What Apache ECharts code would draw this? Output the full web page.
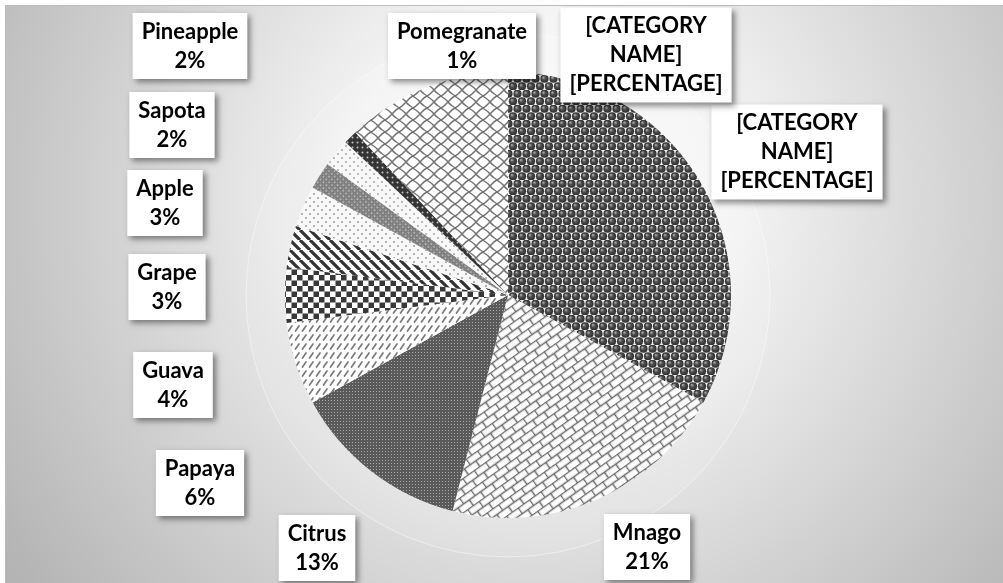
<!DOCTYPE html>
<html>
<head>
<meta charset="utf-8">
<script src="https://cdn.jsdelivr.net/npm/echarts@6/dist/echarts.min.js"></script>
<style>
  html, body { margin: 0; padding: 0; background: #ffffff; }
  #chart { width: 1003px; height: 583px; }
</style>
</head>
<body>
<div id="chart"></div>
<script>
// Fruit area shares, clockwise from 12 o'clock
const categories = ['[CATEGORY NAME]', 'Mnago', 'Citrus', 'Papaya', 'Guava', 'Grape',
                    'Apple', 'Sapota', 'Pineapple', 'Pomegranate', '[CATEGORY NAME]'];
const shares = [33, 21, 13, 6, 4, 3, 3, 2, 2, 1, 12];

// Where each label box sits (box centre, px)
const labelCenters = [[797, 152], [647, 547], [317, 548], [200, 483], [173, 385], [167, 287],
                      [165, 203], [172, 125], [190, 46], [462, 46], [646, 55]];

// ---- monochrome fill patterns ----
function tile(w, h, draw) {
  const c = document.createElement('canvas');
  c.width = w; c.height = h;
  const g = c.getContext('2d');
  draw(g, w, h);
  return c;
}

const balls = tile(9, 15, g => {
  g.fillStyle = '#f0f0f0'; g.fillRect(0, 0, 9, 15);
  const centres = [[4.5, 3.75], [0, 11.25], [9, 11.25]];
  centres.forEach(([x, y]) => {
    const gr = g.createRadialGradient(x - 1.3, y - 1.4, 0.3, x, y, 4.2);
    gr.addColorStop(0, '#a8a8a8');
    gr.addColorStop(0.4, '#4e4e4e');
    gr.addColorStop(1, '#2a2a2a');
    g.fillStyle = gr;
    g.beginPath(); g.arc(x, y, 4.1, 0, Math.PI * 2); g.fill();
  });
});

const bricks = tile(14, 14, g => {
  g.fillStyle = '#ffffff'; g.fillRect(0, 0, 14, 14);
  g.strokeStyle = '#6a6a6a'; g.lineWidth = 1.5;
  g.beginPath();
  g.moveTo(0, 0.5); g.lineTo(14, 0.5);
  g.moveTo(0, 7.5); g.lineTo(14, 7.5);
  g.moveTo(0.5, 0); g.lineTo(0.5, 7.5);
  g.moveTo(7.5, 7.5); g.lineTo(7.5, 14);
  g.stroke();
});

const fineGrid = tile(3, 3, g => {
  g.fillStyle = '#5a5a5a'; g.fillRect(0, 0, 3, 3);
  g.fillStyle = '#a9a9a9'; g.fillRect(1, 1, 1, 1);
});

const dashes = tile(7, 9, g => {
  g.fillStyle = '#ffffff'; g.fillRect(0, 0, 7, 9);
  g.strokeStyle = '#7a7a7a'; g.lineWidth = 1.7; g.lineCap = 'round';
  g.beginPath(); g.moveTo(1.5, 7); g.lineTo(5, 2); g.stroke();
});

const checker = tile(11, 11, g => {
  g.fillStyle = '#ffffff'; g.fillRect(0, 0, 11, 11);
  g.fillStyle = '#383838';
  g.fillRect(0, 0, 5.5, 5.5); g.fillRect(5.5, 5.5, 5.5, 5.5);
});

const stripes = tile(10, 10, g => {
  g.fillStyle = '#ffffff'; g.fillRect(0, 0, 10, 10);
  g.strokeStyle = '#333333'; g.lineWidth = 3.2;
  g.beginPath();
  [-10, 0, 10].forEach(k => { g.moveTo(k, 0); g.lineTo(k + 10, 10); });
  g.stroke();
});

function sparseDots(shade) {
  return tile(8, 8, g => {
    g.fillStyle = '#f8f8f8'; g.fillRect(0, 0, 8, 8);
    g.fillStyle = shade;
    [[2, 2], [6, 6]].forEach(([x, y]) => { g.beginPath(); g.arc(x, y, 0.95, 0, Math.PI * 2); g.fill(); });
  });
}

const crossHatch = tile(4, 4, g => {
  g.fillStyle = '#7c7c7c'; g.fillRect(0, 0, 4, 4);
  g.fillStyle = '#dadada'; g.fillRect(1.5, 1.5, 1.4, 1.4);
  g.fillStyle = '#a0a0a0'; g.fillRect(0, 0, 1, 1);
});

const darkDots = tile(5, 5, g => {
  g.fillStyle = '#343434'; g.fillRect(0, 0, 5, 5);
  g.fillStyle = '#c4c4c4';
  g.beginPath(); g.arc(2.5, 2.5, 1.0, 0, Math.PI * 2); g.fill();
});

const lattice = tile(14, 12, g => {
  g.fillStyle = '#ffffff'; g.fillRect(0, 0, 14, 12);
  g.strokeStyle = '#727272'; g.lineWidth = 1.4;
  g.beginPath();
  g.moveTo(0, 6); g.bezierCurveTo(2, 4, 4, 1, 7, 0);
  g.moveTo(7, 0); g.bezierCurveTo(9, 2, 12, 3, 14, 6);
  g.moveTo(14, 6); g.bezierCurveTo(12, 8, 10, 11, 7, 12);
  g.moveTo(7, 12); g.bezierCurveTo(5, 10, 2, 9, 0, 6);
  g.stroke();
});

const fills = [
  { image: balls, repeat: 'repeat' },
  { image: bricks, repeat: 'repeat', rotation: -0.62 },
  { image: fineGrid, repeat: 'repeat' },
  { image: dashes, repeat: 'repeat' },
  { image: checker, repeat: 'repeat' },
  { image: stripes, repeat: 'repeat' },
  { image: sparseDots('#959595'), repeat: 'repeat' },
  { image: crossHatch, repeat: 'repeat', rotation: 0.78 },
  { image: sparseDots('#a0a0a0'), repeat: 'repeat' },
  { image: darkDots, repeat: 'repeat' },
  { image: lattice, repeat: 'repeat' }
];

function labelText(p) {
  if (p.name.charAt(0) === '[') {
    return p.name.replace(' ', '\n') + '\n[PERCENTAGE]';
  }
  return p.name + '\n' + p.value + '%';
}

const chart = echarts.init(document.getElementById('chart'), null, { renderer: 'canvas' });

chart.setOption({
  animation: false,
  graphic: [{
    type: 'rect',
    silent: true,
    z: -10,
    shape: { x: 5.5, y: 5.5, width: 1000, height: 580 },
    style: {
      fill: {
        type: 'radial', x: 540, y: 200, r: 640, global: true,
        colorStops: [
          { offset: 0, color: '#ffffff' },
          { offset: 0.3, color: '#f4f4f4' },
          { offset: 1, color: '#b4b4b4' }
        ]
      },
      stroke: '#bdbdbd',
      lineWidth: 1
    }
  }],
  series: [
    {
      // soft halo around the pie
      type: 'pie',
      silent: true,
      z: 1,
      center: [508, 295],
      radius: 262,
      label: { show: false },
      labelLine: { show: false },
      data: [{ value: 1, itemStyle: { color: 'rgba(255,255,255,0.1)', borderColor: 'rgba(255,255,255,0.45)', borderWidth: 1 } }]
    },
    {
      type: 'pie',
      z: 2,
      center: [508, 295],
      radius: 223,
      startAngle: 90,
      clockwise: true,
      avoidLabelOverlap: false,
      emphasis: { disabled: true },
      itemStyle: { borderWidth: 0 },
      data: categories.map((name, i) => ({ name, value: shares[i], itemStyle: { color: fills[i] } })),
      label: {
        show: true,
        formatter: labelText,
        color: '#000000',
        fontFamily: 'Lato',
        fontWeight: 'bold',
        fontSize: 22,
        lineHeight: 29,
        align: 'center',
        backgroundColor: '#ffffff',
        padding: [4, 9],
        shadowBlur: 6,
        shadowOffsetX: 3,
        shadowOffsetY: 3,
        shadowColor: 'rgba(0,0,0,0.45)'
      },
      labelLine: { show: false },
      labelLayout: p => ({
        x: labelCenters[p.dataIndex][0],
        y: labelCenters[p.dataIndex][1],
        align: 'center',
        verticalAlign: 'middle'
      })
    }
  ]
});
</script>
</body>
</html>
